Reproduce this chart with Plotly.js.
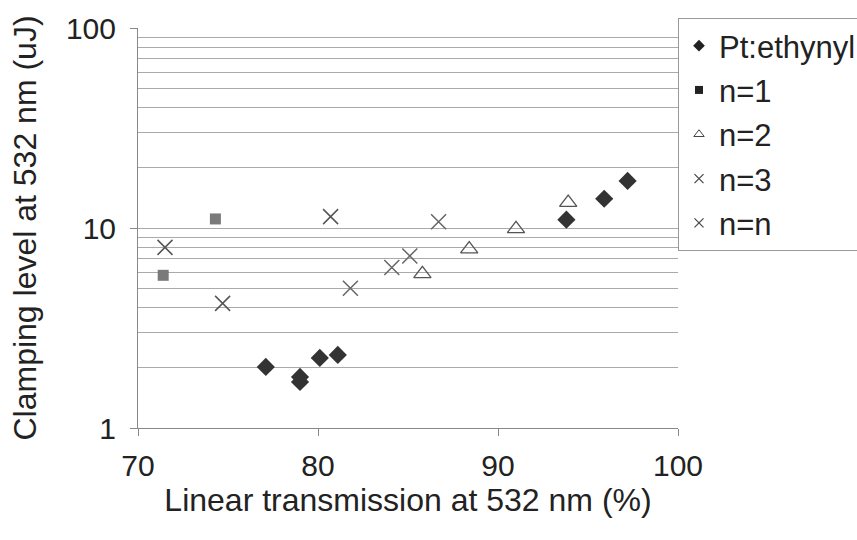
<!DOCTYPE html>
<html>
<head>
<meta charset="utf-8">
<script src="https://cdn.plot.ly/plotly-3.0.1.min.js"></script>
<style>html,body{margin:0;padding:0;background:#fff;}#chart{width:857px;height:540px;}</style>
</head>
<body>
<div id="chart"></div>
<script>
// Data
const ptX = [77.1, 79.0, 79.0, 80.1, 81.1, 93.8, 95.9, 97.2];
const ptY = [2.02, 1.80, 1.70, 2.24, 2.32, 11.0, 14.0, 17.2];
const n1X = [71.4, 74.3];
const n1Y = [5.8, 11.1];
const n2X = [85.8, 88.4, 91.0, 93.9];
const n2Y = [5.9, 7.85, 9.9, 13.4];
const n3X = [71.5, 74.7, 80.7];
const n3Y = [8.0, 4.2, 11.4];
const nnX = [81.8, 84.1, 85.1, 86.7];
const nnY = [5.0, 6.35, 7.25, 10.75];
const seriesNames = ["Pt:ethynyl", "n=1", "n=2", "n=3", "n=n"];
const xTicks = [70, 80, 90, 100];
const yTicks = [1, 10, 100];
const yMinor = [2,3,4,5,6,7,8,9,20,30,40,50,60,70,80,90];

const FAM = "Liberation Sans, Arial, sans-serif";
const TXT = "#222";

const markers = [
  {symbol: "diamond", size: 14, color: "#333"},
  {symbol: "square", size: 11, color: "#7a7a7a"},
  {symbol: "triangle-up-open", size: 15, color: "#555", line: {width: 1.3}},
  {symbol: "x-thin-open", size: 15, color: "#555", line: {width: 1.5, color: "#555"}},
  {symbol: "x-thin-open", size: 15, color: "#666", line: {width: 1.5, color: "#666"}}
];
const legendMarkers = [
  {symbol: "diamond", size: 9, color: "#222"},
  {symbol: "square", size: 8, color: "#222"},
  {symbol: "triangle-up-open", size: 9, color: "#444", line: {width: 1}},
  {symbol: "x-thin-open", size: 9, color: "#444", line: {width: 1.2, color: "#444"}},
  {symbol: "x-thin-open", size: 9, color: "#444", line: {width: 1.2, color: "#444"}}
];
const xs = [ptX, n1X, n2X, n3X, nnX];
const ys = [ptY, n1Y, n2Y, n3Y, nnY];
const groups = ["a", "b", "c", "d", "e"];

const traces = [];
for (let i = 0; i < 5; i++) {
  traces.push({x: xs[i], y: ys[i], name: seriesNames[i], legendgroup: groups[i],
               type: "scatter", mode: "markers", marker: markers[i], showlegend: false});
}
for (let i = 0; i < 5; i++) {
  traces.push({x: [null], y: [null], name: seriesNames[i], legendgroup: groups[i],
               type: "scatter", mode: "markers", marker: legendMarkers[i], showlegend: true});
}

const layout = {
  width: 857, height: 540,
  margin: {l: 138, r: 179, t: 28, b: 112, autoexpand: false},
  paper_bgcolor: "#fff", plot_bgcolor: "#fff",
  font: {family: FAM, color: TXT, size: 30},
  showlegend: true,
  legend: {x: 1.0, xanchor: "left", y: 1.025, yanchor: "top",
           bordercolor: "#999", borderwidth: 1, bgcolor: "#fff",
           font: {family: FAM, size: 31, color: TXT},
           tracegroupgap: 1, itemsizing: "trace"},
  xaxis: {type: "linear", range: [70, 100], tickvals: xTicks, ticktext: xTicks.map(String),
          showgrid: false, zeroline: false, showline: true, linecolor: "#888", linewidth: 1,
          ticks: "outside", ticklen: 7, tickcolor: "#888", ticklabelstandoff: 4,
          tickfont: {family: FAM, size: 30, color: TXT},
          title: {text: "Linear transmission at 532 nm (%)", standoff: 1,
                  font: {family: FAM, size: 32, color: TXT}}},
  yaxis: {type: "log", range: [0, 2], tickvals: yTicks, ticktext: yTicks.map(String),
          showgrid: true, gridcolor: "#aaa", gridwidth: 1, zeroline: false,
          showline: true, linecolor: "#888", linewidth: 1,
          ticks: "outside", ticklen: 7, tickcolor: "#888", ticklabelstandoff: 8,
          minor: {tickvals: yMinor, showgrid: true, gridcolor: "#aaa", gridwidth: 1, ticks: ""},
          tickfont: {family: FAM, size: 30, color: TXT},
          title: {text: "Clamping level at 532 nm (uJ)", standoff: 19,
                  font: {family: FAM, size: 32, color: TXT}}}
};

Plotly.newPlot("chart", traces, layout, {displayModeBar: false, staticPlot: true});
</script>
</body>
</html>
